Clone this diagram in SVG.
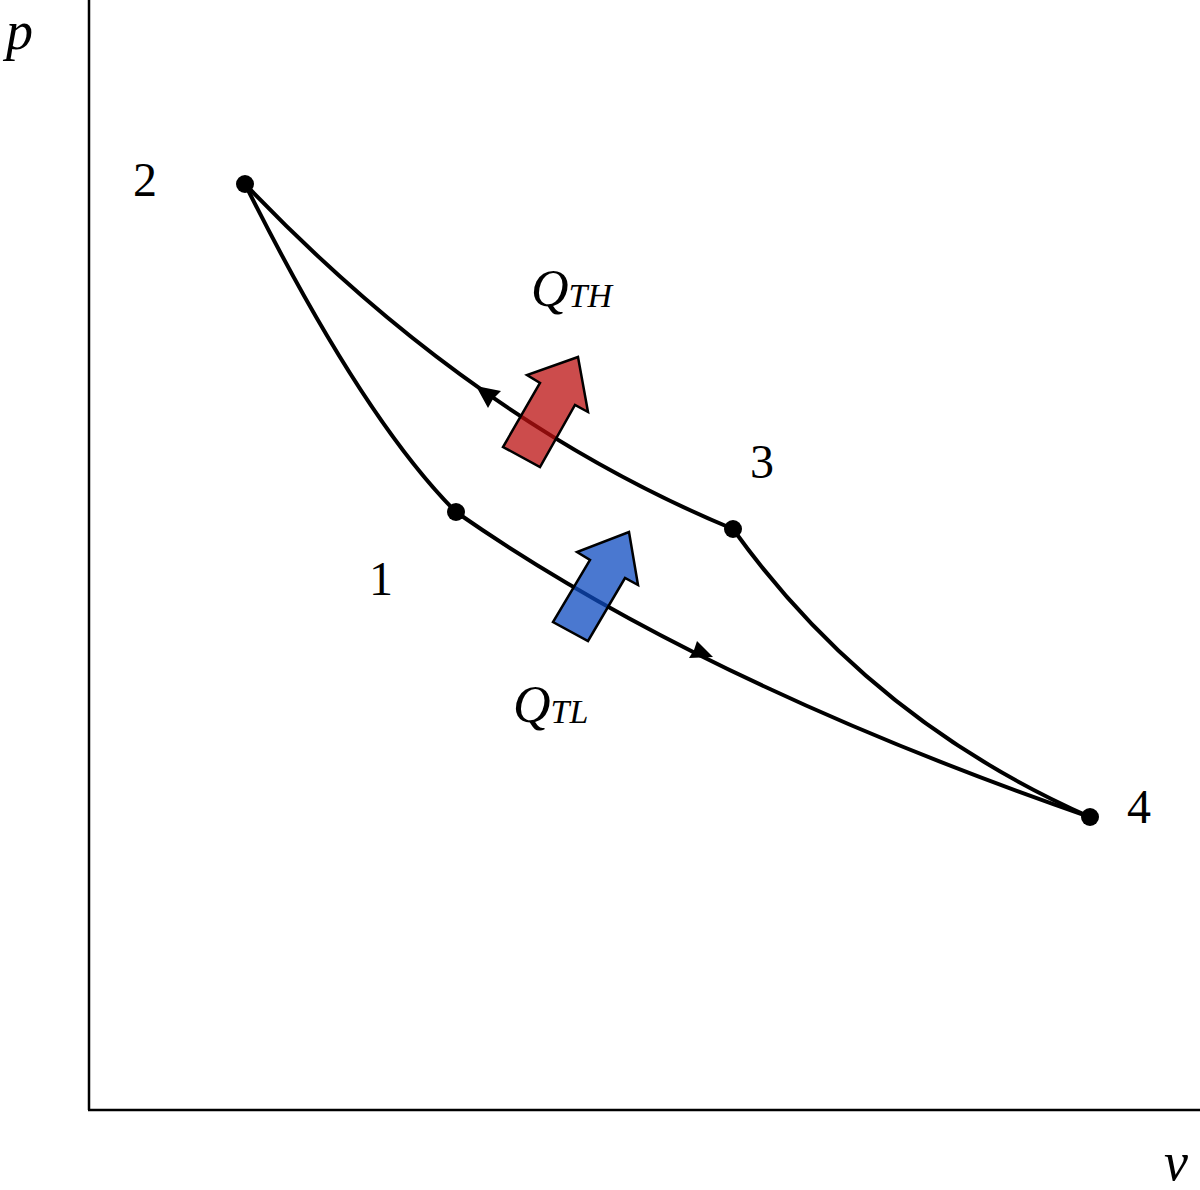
<svg xmlns="http://www.w3.org/2000/svg" width="1200" height="1190" viewBox="0 0 1200 1190">
<style>
.ax{stroke:#000;stroke-width:2.5;fill:none}
.cv{stroke:#000;stroke-width:4;fill:none}
.lbl{font-family:"Liberation Serif",serif;font-size:48px;fill:#000}
.it{font-family:"Liberation Serif",serif;font-style:italic;fill:#000}
.pt{fill:#000}
.blk{stroke:#000;stroke-width:2.5;stroke-linejoin:miter}
</style>
<rect width="1200" height="1190" fill="#fff"/>
<g id="axes">
<line class="ax" x1="89" y1="0" x2="89" y2="1110"/>
<line class="ax" x1="88" y1="1110" x2="1200" y2="1110"/>
<text class="it" x="6" y="49" font-size="54">p</text>
<text class="it" x="1164" y="1180" font-size="54">v</text>
</g>
<g id="connectors">
<path class="cv" d="M245,184 Q362,418 456,512"/>
<path class="cv" d="M456,512 Q700,682 1090,817"/>
<path class="cv" d="M1090,817 Q870,720 733,529"/>
<path class="cv" d="M733,529 Q470,420 245,184"/>
<polygon class="pt" points="476,386 501,391 493,399 488,408"/>
<polygon class="pt" points="713,657 689,658 694,650 697,641"/>
</g>
<g id="node1"><circle class="pt" cx="456" cy="512" r="9"/><text class="lbl" x="381" y="595" text-anchor="middle">1</text></g>
<g id="node2"><circle class="pt" cx="245" cy="184" r="9"/><text class="lbl" x="145" y="196" text-anchor="middle">2</text></g>
<g id="node3"><circle class="pt" cx="733" cy="529" r="9"/><text class="lbl" x="762" y="478" text-anchor="middle">3</text></g>
<g id="node4"><circle class="pt" cx="1090" cy="817" r="9"/><text class="lbl" x="1139" y="823" text-anchor="middle">4</text></g>
<g id="qth">
<polygon class="blk" fill="#bb1010" fill-opacity="0.75" points="578,357 588,412 575,405 540,467 503,447 540,383 527,375"/>
<text class="it" x="531" y="306" font-size="52">Q<tspan font-size="34" dy="1">TH</tspan></text>
</g>
<g id="qtl">
<polygon class="blk" fill="#0e4bc0" fill-opacity="0.75" points="629,532 638,585 625,578 588,641 553,622 590,560 577,552"/>
<text class="it" x="513" y="722" font-size="52">Q<tspan font-size="34" dy="1">TL</tspan></text>
</g>
</svg>
